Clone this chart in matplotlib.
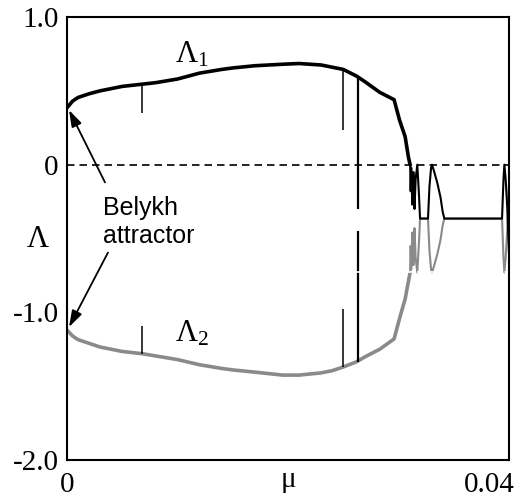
import matplotlib
matplotlib.use("Agg")
import matplotlib.pyplot as plt
import matplotlib.transforms as mtransforms
import numpy as np

# ---- data -------------------------------------------------------------
mu = np.array([0.0, 0.0005, 0.001, 0.002, 0.003, 0.004, 0.005, 0.0068, 0.008,
               0.010, 0.012, 0.014, 0.015, 0.017, 0.0195, 0.021, 0.023, 0.024,
               0.025, 0.0262, 0.027, 0.0283, 0.0296, 0.0301, 0.0306, 0.0309,
               0.03105,
               0.0311, 0.03115, 0.03125, 0.03135, 0.03145, 0.03155, 0.0317,
               0.03185, 0.03195,
               0.03267, 0.0328, 0.03295, 0.03303, 0.0332, 0.0335, 0.0338,
               0.0340, 0.03415,
               0.03937, 0.0395, 0.03958, 0.0397, 0.03985, 0.0400])

lam1 = np.array([0.385, 0.43, 0.455, 0.48, 0.50, 0.515, 0.53, 0.545, 0.555,
                 0.58, 0.62, 0.645, 0.655, 0.67, 0.68, 0.685, 0.675, 0.66,
                 0.645, 0.60, 0.56, 0.49, 0.44, 0.30, 0.19, 0.05,
                 0.0,
                 -0.18, -0.02, -0.27, -0.05, -0.30, -0.10, 0.0,
                 -0.20, -0.365,
                 -0.365, -0.15, -0.02, 0.0, -0.04, -0.12, -0.22,
                 -0.32, -0.365,
                 -0.365, -0.10, 0.0, -0.10, -0.30, -0.60])

lam2 = np.array([-1.12, -1.16, -1.185, -1.21, -1.235, -1.25, -1.265, -1.28,
                 -1.295, -1.32, -1.355, -1.38, -1.39, -1.405, -1.425, -1.425,
                 -1.41, -1.395, -1.37, -1.335, -1.30, -1.25, -1.18, -1.04,
                 -0.91, -0.79,
                 -0.73,
                 -0.55, -0.71, -0.46, -0.68, -0.43, -0.63, -0.73,
                 -0.53, -0.365,
                 -0.365, -0.58, -0.71, -0.73, -0.69, -0.61, -0.51,
                 -0.41, -0.365,
                 -0.365, -0.63, -0.73, -0.63, -0.43, -0.13])

spike_mu = [0.0068, 0.0250, 0.0263]
spike_up_from = [0.545, 0.645, 0.60]
spike_up_to = [0.35, 0.236, -0.30]
spike_low_from = [-1.28, -1.37, -1.335]
spike_low_to = [-1.09, -0.98, -0.45]

sum_level = -0.73

x_ticks = [0.0, 0.04]
x_ticklabels = ["0", "0.04"]
y_ticks = [1.0, 0.0, -1.0, -2.0]
y_ticklabels = ["1.0", "0", "-1.0", "-2.0"]

# ---- figure -----------------------------------------------------------
plt.rcParams['mathtext.fontset'] = 'custom'
plt.rcParams['mathtext.rm'] = 'Liberation Serif'
plt.rcParams['mathtext.it'] = 'Liberation Serif'
serif = 'Liberation Serif'

fig = plt.figure(figsize=(5.2, 4.97), dpi=100)
ax = fig.add_axes([67/520, 1-460/497, (509-67)/520, (460-17)/497])
ax.set_xlim(0, 0.04)
ax.set_ylim(-2.0, 1.0)

main = mu <= 0.03106
lens = mu >= 0.03105

gray = '#8a8a8a'
ax.plot(mu[main], lam2[main], color=gray, lw=2.6, solid_capstyle='round', zorder=3)
ax.plot(mu[lens], lam2[lens], color=gray, lw=1.5, zorder=3)
ax.plot(mu[main], lam1[main], color='black', lw=2.6, solid_capstyle='round', zorder=4)
ax.plot(mu[lens], lam1[lens], color='black', lw=1.5, zorder=4)

lws = [1.1, 1.1, 1.6]
for m, a, b, c, d, w in zip(spike_mu, spike_up_from, spike_up_to,
                            spike_low_from, spike_low_to, lws):
    ax.vlines(m, b, a, color='black', lw=w, zorder=5)
    ax.vlines(m, c, d, color='black', lw=w, zorder=5)

ax.axhline(0.0, color='black', lw=1.2, ls=(0, (4.5, 3.0)), zorder=6)
ax.axhline(sum_level, color='white', lw=1.2, ls=(0, (4.5, 3.0)), zorder=6)

for s in ax.spines.values():
    s.set_linewidth(1.5)
    s.set_zorder(10)

ax.set_xticks(x_ticks)
ax.set_xticklabels(x_ticklabels, fontfamily=serif, fontsize=21)
ax.set_yticks(y_ticks)
ax.set_yticklabels(y_ticklabels, fontfamily=serif, fontsize=21)
ax.tick_params(length=0)
ax.tick_params(axis='y', pad=6)
ax.tick_params(axis='x', pad=9)
lab = ax.get_xticklabels()[-1]
lab.set_ha('right')
lab.set_transform(lab.get_transform() +
                  mtransforms.ScaledTranslation(6/100, 0, fig.dpi_scale_trans))

ax.set_xlabel('μ', fontfamily=serif, fontsize=21)
ax.xaxis.set_label_coords(0.5, -0.046)
ax.xaxis.label.set_va('center')
ax.set_ylabel('Λ', fontfamily=serif, fontsize=22, rotation=0)
ax.yaxis.set_label_coords(-0.066, 0.497)
ax.yaxis.label.set_va('center')
ax.yaxis.label.set_ha('center')

ax.text(0.00977, 0.69, r'$\Lambda_1$', fontsize=22, ha='left', va='baseline')
ax.text(0.00977, -1.196, r'$\Lambda_2$', fontsize=22, ha='left', va='baseline')

ax.text(0.00326, -0.34, 'Belykh', fontfamily='Liberation Sans', fontsize=18,
        ha='left', va='baseline')
ax.text(0.00326, -0.53, 'attractor', fontfamily='Liberation Sans', fontsize=18,
        ha='left', va='baseline')

arrow = dict(arrowstyle='-|>,head_length=1.0,head_width=0.32', color='black',
             lw=1.3, shrinkA=0, shrinkB=0)
ax.annotate('', xy=(0.00018, 0.37), xytext=(0.00344, -0.12), arrowprops=arrow,
            zorder=7)
ax.annotate('', xy=(0.00018, -1.10), xytext=(0.00371, -0.595), arrowprops=arrow,
            zorder=7)

fig.savefig('out.png', dpi=100)
